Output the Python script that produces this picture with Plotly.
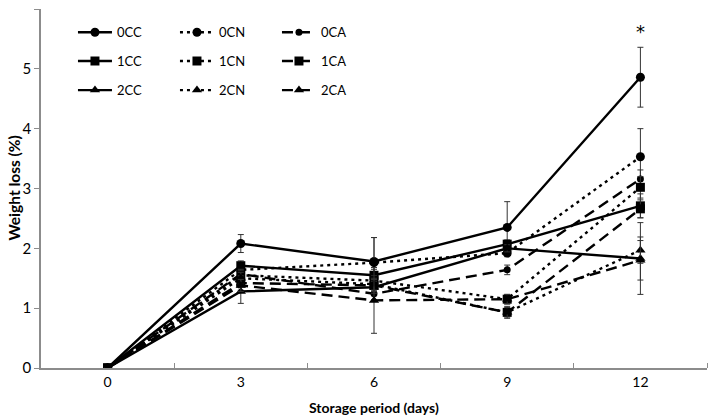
import plotly.graph_objects as go

days = [0, 3, 6, 9, 12]

names = ["0CC", "0CN", "0CA", "1CC", "1CN", "1CA", "2CC", "2CN", "2CA"]

v_0CC = [0, 2.08, 1.78, 2.35, 4.86]
v_0CN = [0, 1.64, 1.76, 1.92, 3.53]
v_0CA = [0, 1.57, 1.24, 1.64, 3.16]
v_1CC = [0, 1.71, 1.55, 2.07, 2.71]
v_1CN = [0, 1.55, 1.46, 1.15, 3.02]
v_1CA = [0, 1.42, 1.38, 0.93, 2.66]
v_2CC = [0, 1.28, 1.35, 2.00, 1.83]
v_2CN = [0, 1.50, 1.40, 0.93, 1.97]
v_2CA = [0, 1.38, 1.13, 1.15, 1.80]

e_0CC = [0, 0.15, 0.40, 0.43, 0.50]
e_0CN = [0, 0.08, 0.42, 0.06, 0.47]
e_0CA = [0, 0.10, 0.10, 0.08, 0.15]
e_1CC = [0, 0.08, 0.10, 0.07, 0.20]
e_1CN = [0, 0.10, 0.08, 0.08, 0.18]
e_1CA = [0, 0.12, 0.10, 0.08, 0.15]
e_2CC = [0, 0.20, 0.10, 0.06, 0.60]
e_2CN = [0, 0.10, 0.10, 0.10, 0.22]
e_2CA = [0, 0.10, 0.55, 0.08, 0.33]

values = [v_0CC, v_0CN, v_0CA, v_1CC, v_1CN, v_1CA, v_2CC, v_2CN, v_2CA]
errors = [e_0CC, e_0CN, e_0CA, e_1CC, e_1CN, e_1CA, e_2CC, e_2CN, e_2CA]
symbols = ["circle", "circle", "circle", "square", "square", "square",
           "triangle-up", "triangle-up", "triangle-up"]
dashes = ["solid", "3px,4px", "11px,6px"] * 3
msizes = [9, 9, 7, 9, 9, 9, 9, 9, 9]
legend_ids = ["legend"] * 3 + ["legend2"] * 3 + ["legend3"] * 3

ink = "#000000"
fig = go.Figure()
for nm, ys, es, sym, ds, ms, lg in zip(names, values, errors, symbols, dashes, msizes, legend_ids):
    fig.add_trace(go.Scatter(
        x=days, y=ys, name=nm, mode="lines+markers",
        line=dict(color=ink, width=2.4, dash=ds),
        marker=dict(symbol=sym, size=ms, color=ink),
        error_y=dict(type="data", array=es, visible=True, color="#333333", thickness=1, width=3),
        legend=lg,
    ))

fig.add_annotation(x=12, y=5.62, text="*", showarrow=False,
                   font=dict(size=18, color=ink, family="DejaVu Sans"))

font_family = "Lato, Open Sans, sans-serif"
leg_common = dict(orientation="h", entrywidth=53, xanchor="left", yanchor="middle",
                  x=0.048, bgcolor="rgba(0,0,0,0)",
                  font=dict(size=13, family=font_family, color=ink), itemwidth=34)

fig.update_layout(
    template="none",
    width=709, height=416,
    margin=dict(l=41, r=2, t=9, b=48),
    paper_bgcolor="white", plot_bgcolor="white",
    font=dict(family=font_family, size=14, color=ink),
    showlegend=True,
    legend=dict(leg_common, y=0.935),
    legend2=dict(leg_common, y=0.855),
    legend3=dict(leg_common, y=0.774),
    xaxis=dict(
        automargin=False,
        range=[-1.5, 13.5], tickvals=days, ticktext=[str(d) for d in days],
        ticks="", showgrid=False, zeroline=False,
        showline=True, linecolor="#8c8c8c", linewidth=1.5,
        minor=dict(tickvals=[1.5, 4.5, 7.5, 10.5, 13.5], ticks="inside", ticklen=5,
                   tickcolor="#8c8c8c", tickwidth=1, showgrid=False),
        tickfont=dict(size=14, family=font_family),
    ),
    yaxis=dict(
        automargin=False,
        range=[0, 6], tickvals=[0, 1, 2, 3, 4, 5, 6],
        ticks="outside", ticklen=5, tickcolor="#8c8c8c", tickwidth=1,
        showgrid=False, zeroline=False,
        showline=True, linecolor="#8c8c8c", linewidth=1.5,
        tickfont=dict(size=15, family=font_family),
    ),
)

fig.add_annotation(xref="paper", yref="paper", x=0.5, y=0, yshift=-39,
                   xanchor="center", yanchor="middle",
                   text="<b>Storage period (days)</b>", showarrow=False,
                   font=dict(size=14, family=font_family, color=ink))
fig.add_annotation(xref="paper", yref="paper", x=0, y=0.5, xshift=-28,
                   xanchor="center", yanchor="middle",
                   text="<b>Weight loss (%)</b>", textangle=-90, showarrow=False,
                   font=dict(size=15.5, family=font_family, color=ink))

fig.write_html(
    "out.html",
    config={"responsive": False, "displayModeBar": False},
    post_script="document.body.style.margin='0';document.body.style.padding='0';"
                "document.body.style.overflow='hidden';",
)
